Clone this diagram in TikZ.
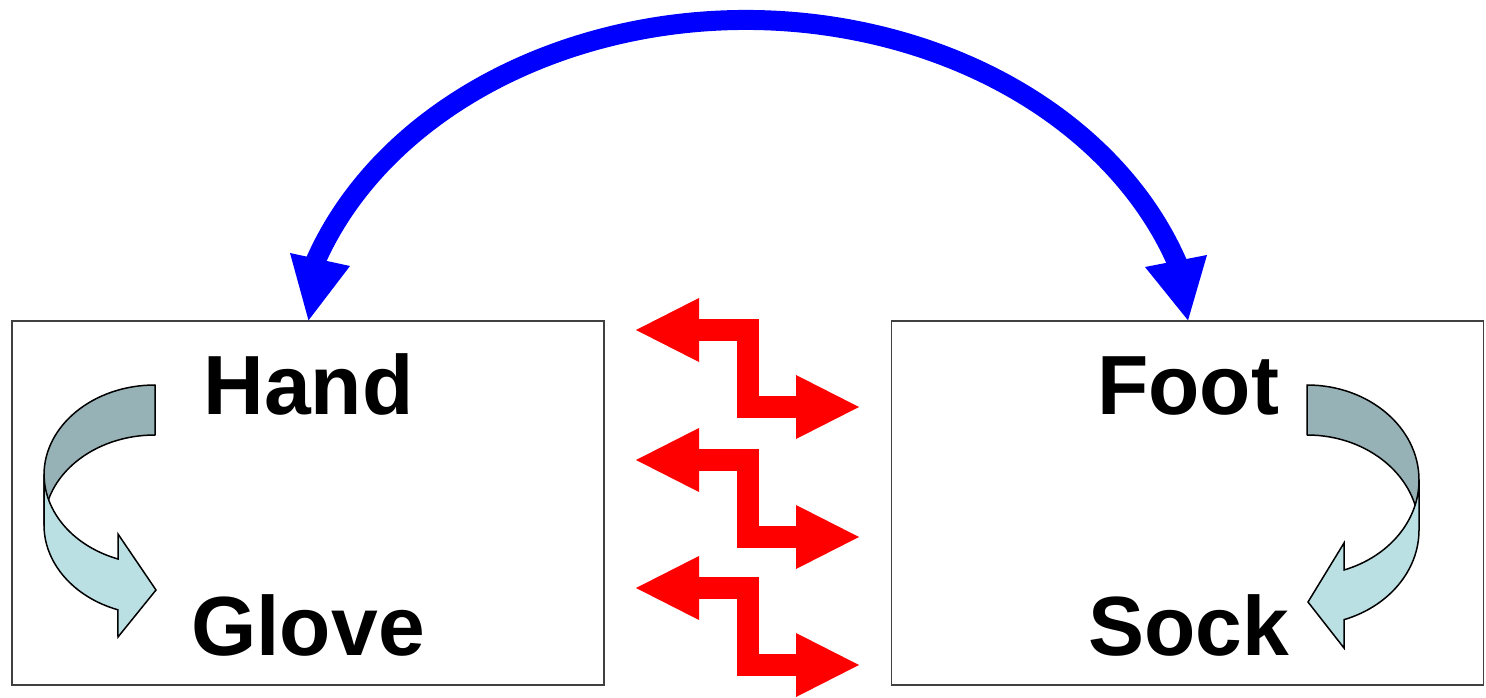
\documentclass[tikz,border=0pt]{standalone}
\usepackage{fontspec}
\setmainfont{Liberation Sans}
\usetikzlibrary{arrows.meta}
\definecolor{backc}{HTML}{96B2B6}
\definecolor{frontc}{HTML}{BBE0E4}
\definecolor{boxc}{HTML}{404040}
\begin{document}
\begin{tikzpicture}[x=1pt,y=1pt,
  panel/.style={draw=boxc,line width=1.3pt,minimum width=592pt,minimum height=364pt,inner sep=0pt},
  word/.style={font=\fontsize{84}{84}\selectfont\bfseries,inner sep=0pt,anchor=base},
  bigarc/.style={draw=blue,line width=20pt},
  bighead/.style={fill=blue},
  zig/.style={draw=red,line width=22pt,line join=miter,{Triangle[length=63pt,width=64pt,line width=0pt]}-{Triangle[length=63pt,width=64pt,line width=0pt]}},
  back/.style={fill=backc,draw=black,line width=1.5pt,line join=round},
  front/.style={fill=frontc,draw=black,line width=1.5pt,line join=miter}]
\useasboundingbox (0,0) rectangle (1486,697);
\fill[white] (0,0) rectangle (1486,697);

% panels
\node[panel] (lbox) at (308,194) {};
\node[panel] (rbox) at (1187.5,194) {};

% words
\node[word] (hand) at (308.5,282) {Hand};
\node[word] (glove) at (308,42) {Glove};
\node[word] (foot) at (1188,282) {Foot};
\node[word] (sock) at (1189,42) {Sock};

% blue arc connector
\coordinate (hTip) at (hand |- lbox.north);
\coordinate (fTip) at (foot |- rbox.north);
\coordinate (hBase) at (312.3,428.2);
\draw[bigarc] (hBase)
  arc[start angle=162,end angle=18,x radius=456,y radius=360] coordinate (fBase);
\fill[bighead] (hTip) -- (290,444) -- (350,431) -- cycle;
\fill[bighead] (fTip) -- (1145,430) -- (1207,442) -- cycle;

% red zig-zag double arrows
\coordinate (zc) at (748,0);
\coordinate (z1l) at (636,367); \coordinate (z1r) at (859,290);
\coordinate (z2l) at (636,237); \coordinate (z2r) at (859,160);
\coordinate (z3l) at (636,109); \coordinate (z3r) at (859,32);
\draw[zig] (z1l) -- (z1l -| zc) |- (z1r);
\draw[zig] (z2l) -- (z2l -| zc) |- (z2r);
\draw[zig] (z3l) -- (z3l -| zc) |- (z3r);

% left curved arrow (Hand -> Glove)
\draw[back] (155,312) arc[start angle=90,end angle=180,x radius=111,y radius=90]
  -- (44,172) arc[start angle=180,end angle=90,x radius=111,y radius=90] -- cycle;
\draw[front] (44,222) -- (44,172)
  arc[start angle=180,end angle=250.5,x radius=111,y radius=90]
  -- (118,60) -- (156,107) -- (118,163) -- (118,138)
  arc[start angle=250.5,end angle=180,x radius=111,y radius=90] -- cycle;

% right curved arrow (Foot -> Sock)
\draw[back] (1307,312) arc[start angle=90,end angle=0,x radius=112,y radius=95]
  -- (1419,167) arc[start angle=0,end angle=90,x radius=112,y radius=95] -- cycle;
\draw[front] (1419,217) -- (1419,167)
  arc[start angle=0,end angle=-70.7,x radius=112,y radius=95]
  -- (1344,49) -- (1308,95) -- (1344,154) -- (1344,127)
  arc[start angle=-70.7,end angle=0,x radius=112,y radius=95] -- cycle;
\end{tikzpicture}
\end{document}
